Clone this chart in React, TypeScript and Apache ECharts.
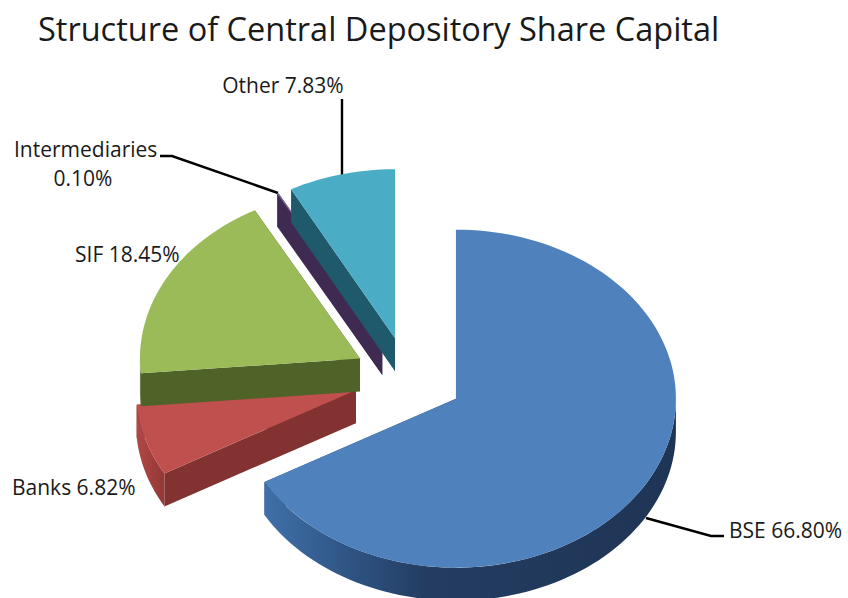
import React, { useEffect, useRef } from "react";
import * as echarts from "echarts";

const titleText = "Structure of Central Depository Share Capital";
const sliceNames = ["BSE", "Banks", "SIF", "Intermediaries", "Other"];
const sliceShares = [66.8, 6.82, 18.45, 0.1, 7.83];

const topColors = ["#4f81bd", "#c0504d", "#9bbb59", "#8064a2", "#4bacc6"];
const cutColors = ["#2c4d75", "#823331", "#4f6228", "#3f2a52", "#1f5a6c"];
const wallStops: [number, string][][] = [
  [[0, "#3f70a8"], [0.2, "#2f5585"], [0.4, "#233c60"], [1, "#1f3556"]],
  [[0, "#b04845"], [1, "#923836"]],
  [[0, "#4f6228"], [1, "#4f6228"]],
  [[0, "#3f2a52"], [1, "#3f2a52"]],
  [[0, "#1f5a6c"], [1, "#1f5a6c"]],
];

const CX = 408.4;
const CY = 378;
const RX = 220;
const RY = 169;
const DEPTH = 33;
const EXPLODE_X = 55;
const EXPLODE_Y = 41;
const FONT = "'Open Sans', sans-serif";

const rad = (deg: number) => (deg * Math.PI) / 180;

function arc(ax: number, ay: number, a0: number, a1: number, dy: number) {
  const n = Math.max(2, Math.ceil(Math.abs(a1 - a0) / 2));
  const pts: number[][] = [];
  for (let k = 0; k <= n; k++) {
    const a = rad(a0 + ((a1 - a0) * k) / n);
    pts.push([ax + RX * Math.sin(a), ay - RY * Math.cos(a) + dy]);
  }
  return pts;
}

function renderSlice(params: any, api: any) {
  const i = params.dataIndex;
  const total = sliceShares.reduce((s, v) => s + v, 0);
  const before = sliceShares.slice(0, i).reduce((s, v) => s + v, 0);
  const a0 = (before / total) * 360;
  const a1 = a0 + ((api.value(1) as number) / total) * 360;
  const mid = rad((a0 + a1) / 2);
  const ax = CX + EXPLODE_X * Math.sin(mid);
  const ay = CY - EXPLODE_Y * Math.cos(mid);
  const children: any[] = [];

  const cut = (ang: number) => {
    const o = arc(ax, ay, ang, ang, 0)[0];
    children.push({
      type: "polygon",
      shape: { points: [[ax, ay], o, [o[0], o[1] + DEPTH], [ax, ay + DEPTH]] },
      style: { fill: cutColors[i] },
    });
  };
  cut(a0);
  cut(a1);

  const w0 = Math.max(a0, 90);
  const w1 = Math.min(a1, 270);
  if (w1 > w0) {
    const upper = arc(ax, ay, w0, w1, 0);
    const lower = arc(ax, ay, w1, w0, DEPTH);
    children.push({
      type: "polygon",
      shape: { points: upper.concat(lower) },
      style: {
        fill: new echarts.graphic.LinearGradient(
          0,
          0,
          1,
          0,
          wallStops[i].map(([offset, color]) => ({ offset, color }))
        ),
      },
    });
  }

  children.push({
    type: "polygon",
    shape: { points: [[ax, ay] as number[]].concat(arc(ax, ay, a0, a1, 0)) },
    style: { fill: topColors[i] },
  });

  return { type: "group", children };
}

const label = (text: string, x: number, y: number, align = "left") => ({
  type: "text",
  x,
  y,
  silent: true,
  style: {
    text,
    fill: "#1a1a1a",
    font: `21px ${FONT}`,
    textAlign: align,
    textVerticalAlign: "middle",
  },
});

const leader = (points: number[][]) => ({
  type: "polyline",
  silent: true,
  shape: { points },
  style: { stroke: "#000", lineWidth: 2.4, fill: "none" },
});

const pct = (i: number) => `${sliceShares[i].toFixed(2)}%`;

export default function App() {
  const ref = useRef<HTMLDivElement>(null);
  useEffect(() => {
    const chart = echarts.init(ref.current!, undefined, { renderer: "svg" });
    chart.setOption({
      animation: false,
      backgroundColor: "#fff",
      title: {
        text: titleText,
        left: 33,
        top: 7,
        textStyle: { fontFamily: FONT, fontWeight: "normal", fontSize: 32.5, color: "#1a1a1a" },
      },
      series: [
        {
          type: "custom",
          coordinateSystem: "none",
          renderItem: renderSlice,
          data: sliceShares.map((v, i) => [i, v]),
          silent: true,
        },
      ],
      graphic: [
        leader([[342, 99], [342, 175]]),
        leader([[160, 156], [172, 156], [278, 193]]),
        leader([[646, 518], [711, 536], [724, 536]]),
        label(`${sliceNames[4]} ${pct(4)}`, 283, 85, "center"),
        label(sliceNames[3], 14, 149),
        label(pct(3), 83, 178, "center"),
        label(`${sliceNames[2]} ${pct(2)}`, 75, 254),
        label(`${sliceNames[1]} ${pct(1)}`, 12, 487),
        label(`${sliceNames[0]} ${pct(0)}`, 729, 530),
      ],
    });
    return () => chart.dispose();
  }, []);
  return (
    <div
      ref={ref}
      style={{ position: "absolute", left: 0, top: 0, width: 848, height: 598 }}
    />
  );
}
